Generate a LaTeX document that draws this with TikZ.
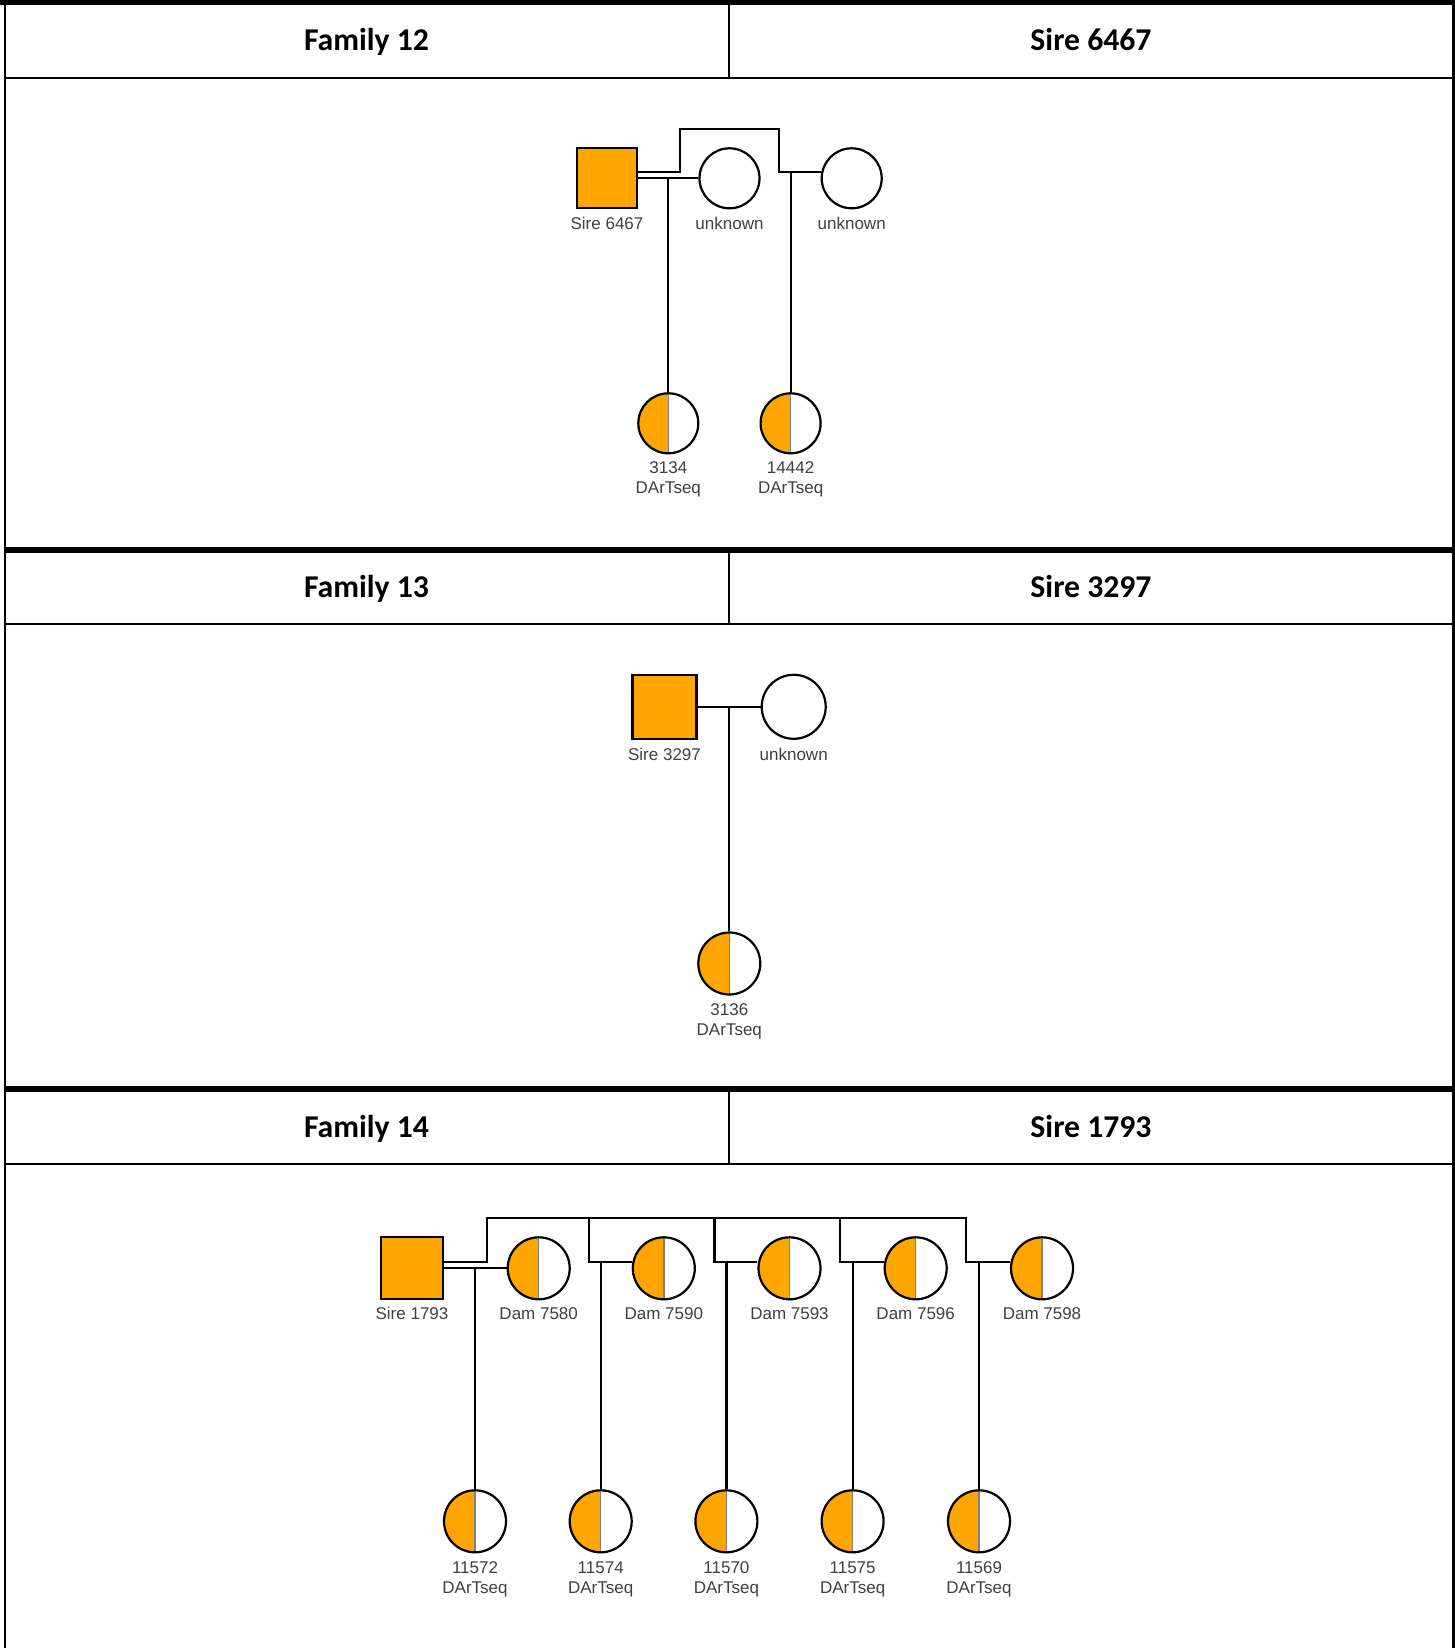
\documentclass[tikz,border=0pt]{standalone}
\usepackage{fontspec}
\newfontfamily\arialf{Liberation Sans}
\newfontfamily\calibf{Carlito}
\definecolor{orangeA}{HTML}{FFA500}
\definecolor{lblgray}{HTML}{404040}
\definecolor{divgray}{HTML}{808080}
\tikzset{
  tblthin/.style={line width=2pt, black},
  tblthick/.style={line width=6pt, black},
  conn/.style={line width=2.2pt, black},
  hdr/.style={font=\calibf\bfseries\fontsize{31.7}{34}\selectfont, inner sep=0pt, anchor=base},
  lbl/.style={font=\arialf\fontsize{17}{20}\selectfont, text=lblgray, inner sep=0pt, anchor=base},
  sqr/.style={rectangle, draw=black, line width=2.2pt, fill=orangeA, minimum size=#1, inner sep=0pt},
  unk/.style={circle, draw=black, line width=2.2pt, fill=white, minimum size=#1, inner sep=0pt},
  halfc/.style={circle, draw=black, line width=2.2pt, fill=white, minimum size=#1, inner sep=0pt,
    path picture={
      \fill[orangeA] (path picture bounding box.south west) rectangle (path picture bounding box.north);
      \draw[divgray, line width=1.5pt] (path picture bounding box.north) -- (path picture bounding box.south);
    }},
}
\begin{document}
\begin{tikzpicture}[x=1pt,y=-1pt]
\useasboundingbox (0,0) rectangle (1455,1648);
\fill[white] (0,0) rectangle (1455,1648);

% ---------- table ----------
\draw[line width=5pt] (0,2.5) -- (1455,2.5);
\draw[line width=2.5pt] (5,0) -- (5,1648);
\draw[line width=3pt] (1453.5,0) -- (1453.5,1648);
\draw[tblthin] (5,77.7) -- (1453,77.7);
\draw[tblthin] (729,5) -- (729,77.7);
\draw[tblthick] (5,550) -- (1453,550);
\draw[tblthin] (5,624) -- (1453,624);
\draw[tblthin] (729,553) -- (729,624);
\draw[tblthick] (5,1089) -- (1453,1089);
\draw[tblthin] (5,1164) -- (1453,1164);
\draw[tblthin] (729,1092) -- (729,1164);

\node[hdr] (h12a) at (366.5,51) {Family 12};
\node[hdr] (h12b) at (1091,51) {Sire 6467};
\node[hdr] (h13a) at (366.5,597) {Family 13};
\node[hdr] (h13b) at (1091,597) {Sire 3297};
\node[hdr] (h14a) at (366.5,1137) {Family 14};
\node[hdr] (h14b) at (1091,1137) {Sire 1793};

% ---------- Family 12 ----------
\node[sqr=60pt] (s12) at (607,178.3) {};
\node[unk=60pt] (u12a) at (729.5,178.3) {};
\node[unk=60pt] (u12b) at (851.7,178.3) {};
\node[halfc=60pt] (c12a) at (668.3,423.3) {};
\node[halfc=60pt] (c12b) at (790.6,423.3) {};
\coordinate (t12a) at (680,129.3);
\coordinate (t12b) at (778.7,129.3);
\coordinate (j12a) at (668.3,178.3);
\coordinate (j12b) at (790.6,172);
\draw[conn] ([yshift=6.3pt]s12.east) -| (t12a) -- (t12b) |- ([yshift=6.3pt]u12b.west);
\draw[conn] (s12.east) -- (u12a.west);
\draw[conn] (j12a) -- (c12a.north);
\draw[conn] (j12b) -- (c12b.north);
\node[lbl] (l12s) at (607,229.4) {Sire 6467};
\node[lbl] (l12u1) at (729.5,229.4) {unknown};
\node[lbl] (l12u2) at (851.7,229.4) {unknown};
\node[lbl] (l12c1) at (668.3,473.4) {3134};
\node[lbl] (l12c1b) at (668.3,493.4) {DArTseq};
\node[lbl] (l12c2) at (790.6,473.4) {14442};
\node[lbl] (l12c2b) at (790.6,493.4) {DArTseq};

% ---------- Family 13 ----------
\node[sqr=64pt] (s13) at (664.5,706.8) {};
\node[unk=64pt] (u13) at (793.7,706.8) {};
\node[halfc=62pt] (c13) at (729.3,963.5) {};
\coordinate (j13) at (729.3,706.8);
\draw[conn] (s13.east) -- (u13.west);
\draw[conn] (j13) -- (c13.north);
\node[lbl] (l13s) at (664.5,760.4) {Sire 3297};
\node[lbl] (l13u) at (793.7,760.4) {unknown};
\node[lbl] (l13c) at (729.3,1015.3) {3136};
\node[lbl] (l13cb) at (729.3,1035.5) {DArTseq};

% ---------- Family 14 ----------
\node[sqr=62pt] (s14) at (412,1268.3) {};
\node[halfc=62pt] (d14a) at (538.7,1268.3) {};
\node[halfc=62pt] (d14b) at (663.8,1268.3) {};
\node[halfc=62pt] (d14c) at (789.5,1268.3) {};
\node[halfc=62pt] (d14d) at (915.7,1268.3) {};
\node[halfc=62pt] (d14e) at (1042,1268.3) {};
\coordinate (t14a) at (487.3,1218.3);
\coordinate (t14b) at (588.7,1218.3);
\coordinate (t14c) at (714.5,1218.3);
\coordinate (t14d) at (840,1218.3);
\coordinate (t14e) at (966,1218.3);
\draw[conn] ([yshift=6.3pt]s14.east) -| (t14a) -- (t14e) |- ([yshift=6.3pt]d14e.west);
\draw[conn] (t14b) |- ([yshift=6.3pt]d14b.west);
\draw[conn] (t14c) |- ([yshift=6.3pt]d14c.west);
\draw[conn] (t14d) |- ([yshift=6.3pt]d14d.west);
\draw[conn] (s14.east) -- (d14a.west);
\node[halfc=62pt] (k14a) at (475,1521.3) {};
\node[halfc=62pt] (k14b) at (600.7,1521.3) {};
\node[halfc=62pt] (k14c) at (726.4,1521.3) {};
\node[halfc=62pt] (k14d) at (852.6,1521.3) {};
\node[halfc=62pt] (k14e) at (979,1521.3) {};
\coordinate (j14a) at (475,1268.3);
\coordinate (j14b) at (600.7,1262);
\coordinate (j14c) at (726.4,1262);
\coordinate (j14d) at (852.6,1262);
\coordinate (j14e) at (979,1262);
\draw[conn] (j14a) -- (k14a.north);
\draw[conn] (j14b) -- (k14b.north);
\draw[conn] (j14c) -- (k14c.north);
\draw[conn] (j14d) -- (k14d.north);
\draw[conn] (j14e) -- (k14e.north);
\node[lbl] (l14s) at (412,1319.6) {Sire 1793};
\node[lbl] (l14a) at (538.7,1319.6) {Dam 7580};
\node[lbl] (l14b) at (663.8,1319.6) {Dam 7590};
\node[lbl] (l14c) at (789.5,1319.6) {Dam 7593};
\node[lbl] (l14d) at (915.7,1319.6) {Dam 7596};
\node[lbl] (l14e) at (1042,1319.6) {Dam 7598};
\node[lbl] (m14a) at (475,1573.4) {11572};
\node[lbl] (m14ab) at (475,1593.4) {DArTseq};
\node[lbl] (m14b) at (600.7,1573.4) {11574};
\node[lbl] (m14bb) at (600.7,1593.4) {DArTseq};
\node[lbl] (m14c) at (726.4,1573.4) {11570};
\node[lbl] (m14cb) at (726.4,1593.4) {DArTseq};
\node[lbl] (m14d) at (852.6,1573.4) {11575};
\node[lbl] (m14db) at (852.6,1593.4) {DArTseq};
\node[lbl] (m14e) at (979,1573.4) {11569};
\node[lbl] (m14eb) at (979,1593.4) {DArTseq};
\end{tikzpicture}
\end{document}
